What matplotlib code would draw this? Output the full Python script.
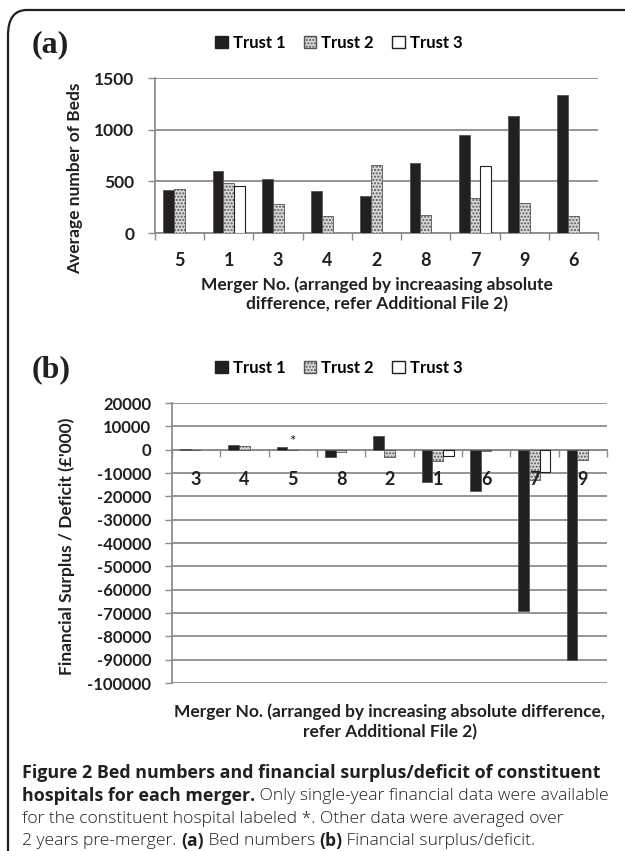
import numpy as np
import matplotlib
matplotlib.use("Agg")
import matplotlib.pyplot as plt
from matplotlib.patches import FancyBboxPatch, Patch

plt.rcParams["axes.unicode_minus"] = False
plt.rcParams["font.family"] = ["Lato", "DejaVu Sans"]
plt.rcParams["font.weight"] = "bold"

# ---- data -----------------------------------------------------------------
beds_mergers = ["5", "1", "3", "4", "2", "8", "7", "9", "6"]
beds_t1 = [415, 600, 520, 405, 355, 680, 950, 1135, 1340]
beds_t2 = [430, 480, 280, 165, 655, 175, 340, 290, 165]
beds_t3 = [0, 455, 0, 0, 0, 0, 645, 0, 0]

fin_mergers = ["3", "4", "5", "8", "2", "1", "6", "7", "9"]
fin_t1 = [500, 2000, 1000, -3000, 6000, -14000, -17500, -69000, -90000]
fin_t2 = [0, 1500, 0, -1000, -3000, -5000, -500, -13000, -4500]
fin_t3 = [0, 0, 0, 0, 0, -2500, 0, -9500, 0]

INK = "#231f20"
GRID = "#8c8c8c"
FS = 12.5

fig = plt.figure(figsize=(6.25, 8.51), dpi=100)

# journal frame (rounded corner, top-left)
fig.add_artist(FancyBboxPatch((8 / 625, -0.1), 1.2, 1.1 - 10 / 851,
                              boxstyle="round,pad=0,rounding_size=0.03",
                              transform=fig.transFigure, fc="none", ec=INK, lw=1.6))

W = 0.22


def bars(ax, t1, t2, t3):
    x = np.arange(len(t1))
    ax.bar(x - W, t1, W, color=INK, edgecolor="#555555", lw=0.6, zorder=3)
    ax.bar(x, t2, W, color="#d9d9d9", edgecolor="#555555", lw=0.6, hatch=".....", zorder=3)
    t3m = np.array(t3, dtype=float)
    mask = t3m != 0
    ax.bar(x[mask] + W, t3m[mask], W, color="white", edgecolor=INK, lw=0.8, zorder=3)


def style(ax, labels, ytick_fs, pad):
    n = len(labels)
    ax.set_xlim(-0.5, n - 0.5)
    ax.set_xticks(np.arange(n), labels)
    ax.set_xticks(np.arange(n + 1) - 0.5, minor=True)
    ax.tick_params(axis="x", which="major", length=0, pad=pad, labelsize=13, labelcolor=INK)
    ax.tick_params(axis="x", which="minor", length=5, color=GRID, width=1.0)
    ax.tick_params(axis="y", length=5, color=GRID, width=1.0, pad=10,
                   labelsize=ytick_fs, labelcolor=INK)
    ax.grid(axis="y", color=GRID, lw=1.3, zorder=0)
    ax.set_axisbelow(True)
    ax.xaxis.set_zorder(4)   # category labels sit on top of bars / gridlines
    for s in ("top", "right"):
        ax.spines[s].set_visible(False)
    for s in ("left", "bottom"):
        ax.spines[s].set_color(GRID)
        ax.spines[s].set_linewidth(1.3)


def legend(y):
    handles = [Patch(fc=INK, ec=INK, label="Trust 1"),
               Patch(fc="#d9d9d9", ec="#555555", hatch=".....", label="Trust 2"),
               Patch(fc="white", ec=INK, label="Trust 3")]
    fig.legend(handles=handles, loc="center", bbox_to_anchor=(0.542, y), ncol=3,
               frameon=False, handlelength=0.75, handleheight=0.75, handletextpad=0.3,
               columnspacing=1.1, prop=dict(weight="bold", size=12))


# ---- (a) bed numbers --------------------------------------------------------
axa = fig.add_axes([0.248, 0.7262, 0.709, 0.1821])
bars(axa, beds_t1, beds_t2, beds_t3)
axa.set_ylim(0, 1500)
axa.set_yticks([0, 500, 1000, 1500])
style(axa, beds_mergers, 12.5, 14)
axa.set_ylabel("Average number of Beds", fontweight="bold", fontsize=FS, color=INK)
axa.yaxis.set_label_coords(-0.163, 0.355)
axa.set_xlabel("Merger No. (arranged by increaasing absolute\ndifference, refer Additional File 2)",
               fontweight="bold", fontsize=FS, color=INK, labelpad=5, linespacing=1.25)
fig.text(32 / 625, 1 - 45 / 851, "(a)", fontfamily="Liberation Serif", fontweight="bold",
         fontsize=23, va="center", ha="left", color=INK)
legend(1 - 43 / 851)

# ---- (b) financial surplus / deficit ----------------------------------------
axb = fig.add_axes([0.275, 0.1974, 0.696, 0.329])
bars(axb, fin_t1, fin_t2, fin_t3)
axb.set_ylim(-100000, 20000)
axb.set_yticks(np.arange(-100000, 20001, 10000))
axb.spines["bottom"].set_position(("data", 0))
style(axb, fin_mergers, 12, 15)
axb.set_ylabel("Financial Surplus / Deficit (£'000)", fontweight="bold", fontsize=FS, color=INK)
axb.yaxis.set_label_coords(-0.223, 0.49)
axb.text(2, 3500, "*", ha="center", va="center", fontsize=11, fontweight="normal", color=INK)
fig.text(0.624, 1 - 722 / 851,
         "Merger No. (arranged by increasing absolute difference,\nrefer Additional File 2)",
         fontweight="bold", fontsize=FS, color=INK,
         ha="center", va="center", linespacing=1.25)
fig.text(32 / 625, 1 - 370 / 851, "(b)", fontfamily="Liberation Serif", fontweight="bold",
         fontsize=23, va="center", ha="left", color=INK)
legend(1 - 368 / 851)

# ---- caption ----------------------------------------------------------------
x0 = 22 / 625
lines = [
    [("Figure 2 Bed numbers and financial surplus/deficit of constituent", "bold")],
    [("hospitals for each merger.", "bold"),
     (" Only single-year financial data were available", "light")],
    [("for the constituent hospital labeled *. Other data were averaged over", "light")],
    [("2 years pre-merger. ", "light"), ("(a)", "bold"), (" Bed numbers ", "light"),
     ("(b)", "bold"), (" Financial surplus/deficit.", "light")],
]
fig.canvas.draw()
r = fig.canvas.get_renderer()
for i, parts in enumerate(lines):
    y = 1 - (773 + i * 22.8) / 851
    x = x0
    for txt, wt in parts:
        fs = 12.9 if (wt == "bold" and i < 2) else 12.6
        t = fig.text(x, y, txt, fontfamily="Open Sans", fontweight=wt, fontsize=fs,
                     color=INK, ha="left", va="center")
        bb = t.get_window_extent(renderer=r)
        x += bb.width / fig.bbox.width

fig.savefig("out.png", dpi=100, facecolor="white")
